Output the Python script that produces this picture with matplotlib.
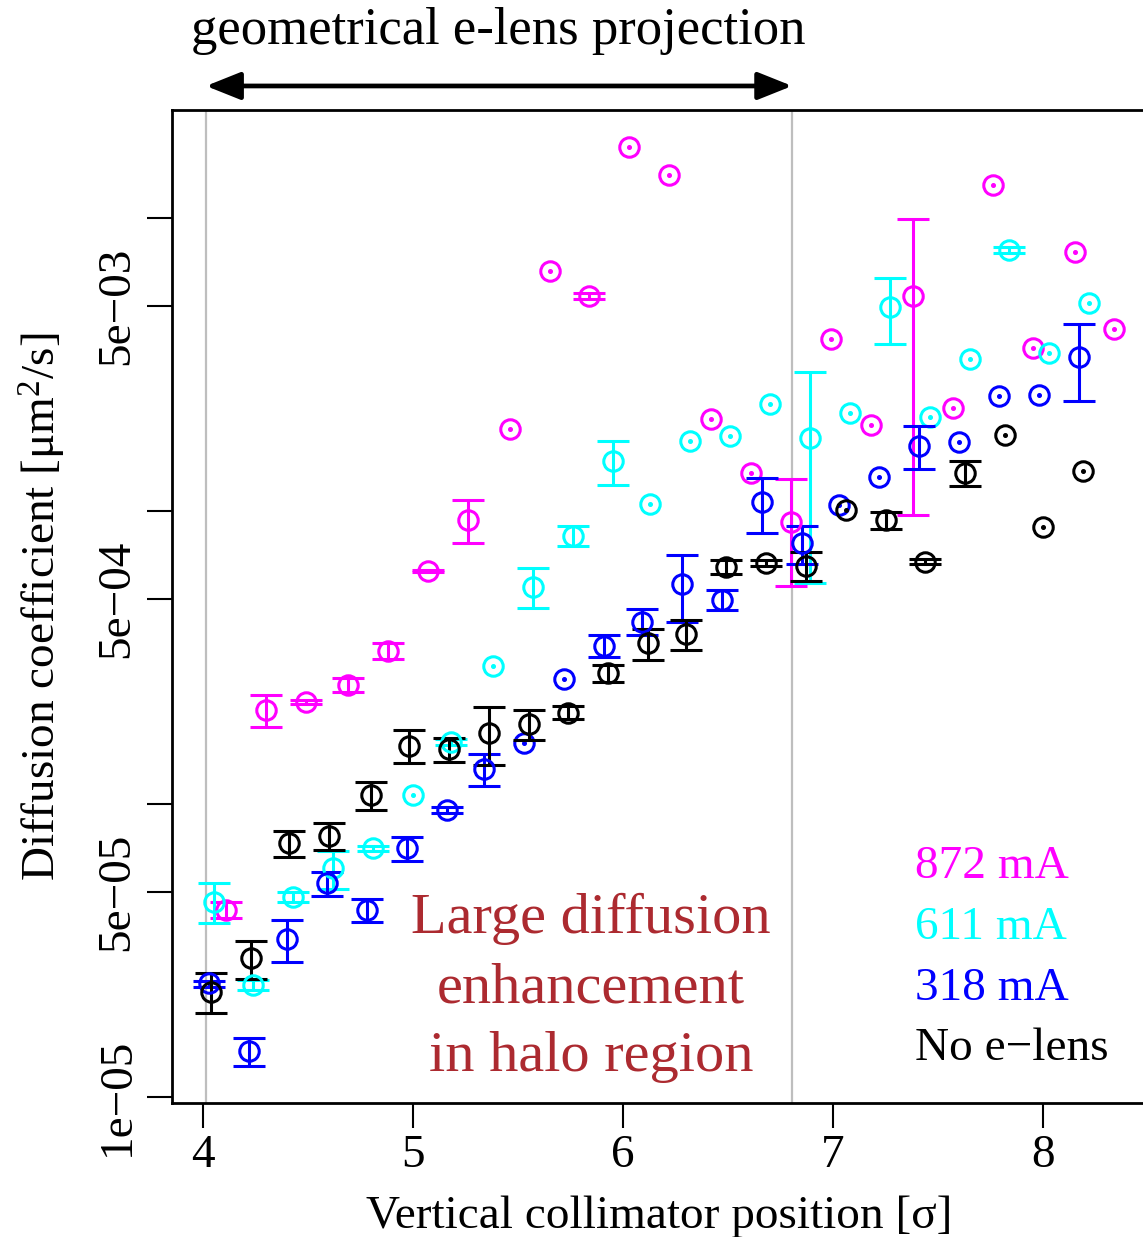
import numpy as np
import matplotlib
matplotlib.use('Agg')
import matplotlib.pyplot as plt

plt.rcParams['font.family'] = ['Liberation Serif', 'DejaVu Serif']
plt.rcParams['mathtext.fontset'] = 'custom'
plt.rcParams['mathtext.rm'] = 'Liberation Serif'
plt.rcParams['mathtext.it'] = 'Liberation Serif:italic'

# diffusion coefficient vs collimator position, one set per e-lens current
x_872 = [4.11, 4.30, 4.49, 4.69, 4.88, 5.07, 5.26, 5.46, 5.65, 5.84, 6.03, 6.22,
         6.42, 6.61, 6.80, 6.99, 7.18, 7.38, 7.57, 7.76, 7.95, 8.15, 8.34]
d_872 = [4.35e-5, 2.09e-4, 2.23e-4, 2.55e-4, 3.34e-4, 6.24e-4, 9.32e-4, 1.90e-3,
         6.61e-3, 5.42e-3, 1.74e-2, 1.40e-2, 2.06e-3, 1.35e-3, 9.19e-4, 3.86e-3,
         1.96e-3, 5.43e-3, 2.24e-3, 1.30e-2, 3.61e-3, 7.64e-3, 4.17e-3]
e_872 = [2.7e-6, 2.65e-5, 3.5e-6, 1.4e-5, 2.1e-5, 4.9e-6, 1.56e-4, 0, 0, 1.28e-4,
         0, 0, 0, 0, 3.63e-4, 0, 0, 4.46e-3, 0, 0, 0, 0, 0]

x_611 = [4.05, 4.24, 4.43, 4.62, 4.81, 5.00, 5.18, 5.38, 5.57, 5.76, 5.95, 6.13,
         6.32, 6.51, 6.70, 6.89, 7.08, 7.27, 7.46, 7.65, 7.84, 8.03, 8.22]
d_611 = [4.64e-5, 2.41e-5, 4.83e-5, 6.03e-5, 7.06e-5, 1.07e-4, 1.63e-4, 2.96e-4,
         5.52e-4, 8.24e-4, 1.48e-3, 1.06e-3, 1.73e-3, 1.80e-3, 2.32e-3, 1.77e-3,
         2.16e-3, 4.98e-3, 2.09e-3, 3.29e-3, 7.78e-3, 3.45e-3, 5.14e-3]
e_611 = [7.3e-6, 9.5e-7, 1.9e-6, 9.0e-6, 1.3e-6, 0, 3.8e-6, 0, 8.5e-5, 6.5e-5,
         2.5e-4, 0, 0, 0, 0, 1.2e-3, 0, 1.28e-3, 0, 0, 1.8e-4, 0, 0]

x_318 = [4.03, 4.22, 4.40, 4.59, 4.78, 4.97, 5.16, 5.34, 5.53, 5.72, 5.91, 6.09,
         6.28, 6.47, 6.66, 6.85, 7.03, 7.22, 7.41, 7.60, 7.79, 7.98, 8.17]
d_318 = [2.44e-5, 1.43e-5, 3.45e-5, 5.36e-5, 4.35e-5, 7.06e-5, 9.54e-5, 1.32e-4,
         1.61e-4, 2.67e-4, 3.47e-4, 4.19e-4, 5.64e-4, 4.97e-4, 1.07e-3, 7.76e-4,
         1.05e-3, 1.31e-3, 1.67e-3, 1.72e-3, 2.47e-3, 2.49e-3, 3.36e-3]
e_318 = [5.8e-7, 1.57e-6, 5.6e-6, 5.0e-6, 4.0e-6, 6.5e-6, 2.2e-6, 1.67e-5, 0, 0,
         3.0e-5, 4.3e-5, 1.45e-4, 3.9e-5, 2.3e-4, 1.15e-4, 0, 0, 2.75e-4, 0, 0, 0, 9.8e-4]

x_0 = [4.04, 4.23, 4.41, 4.60, 4.80, 4.98, 5.17, 5.36, 5.55, 5.74, 5.93, 6.12,
       6.30, 6.49, 6.68, 6.87, 7.06, 7.25, 7.44, 7.63, 7.82, 8.00, 8.19]
d_0 = [2.29e-5, 2.97e-5, 7.34e-5, 7.78e-5, 1.07e-4, 1.58e-4, 1.54e-4, 1.75e-4,
       1.87e-4, 2.05e-4, 2.79e-4, 3.54e-4, 3.79e-4, 6.46e-4, 6.63e-4, 6.51e-4,
       1.01e-3, 9.32e-4, 6.71e-4, 1.35e-3, 1.82e-3, 8.84e-4, 1.37e-3]
e_0 = [3.5e-6, 4.4e-6, 7.7e-6, 8.4e-6, 1.15e-5, 2.05e-5, 1.45e-5, 3.9e-5, 2.2e-5,
       1.05e-5, 1.8e-5, 4.3e-5, 4.45e-5, 3.55e-5, 1.56e-5, 7.2e-5, 0, 6.1e-5,
       1.3e-5, 1.32e-4, 0, 0, 0]

series = [
    ('872 mA', '#FF00FF', x_872, d_872, e_872),
    ('611 mA', '#00FFFF', x_611, d_611, e_611),
    ('318 mA', '#0000FF', x_318, d_318, e_318),
    ('No e\u2212lens', 'black', x_0, d_0, e_0),
]

elens_lo, elens_hi = 4.014, 6.805

fig = plt.figure(figsize=(11.43, 12.37), dpi=100)
ax = fig.add_axes([172/1143, 134/1237, 974/1143, 993/1237])
ax.set_yscale('log')

ax.axvline(elens_lo, color='#BEBEBE', lw=1.6, zorder=1)
ax.axvline(elens_hi, color='#BEBEBE', lw=1.6, zorder=1)

for name, c, x, d, e in series:
    x = np.array(x)
    d = np.array(d)
    e = np.array(e)
    has = e > 0
    ax.errorbar(x[has], d[has], yerr=e[has], fmt='o', mfc='none', mec=c, ecolor=c,
                ms=14, mew=2.2, elinewidth=2.2, capsize=11.5, capthick=2.2, zorder=3)
    ax.plot(x[~has], d[~has], 'o', mfc='none', mec=c, ms=14, mew=2.2, zorder=3)
    ax.plot(x[~has], d[~has], 'o', color=c, ms=2.6, zorder=3)

ax.set_xlim(3.852, 8.49)
ax.set_ylim(9.54e-6, 2.336e-2)

ax.set_xticks([4, 5, 6, 7, 8])
ax.set_xticklabels(['4', '5', '6', '7', '8'])
yt = [1e-5, 5e-5, 1e-4, 5e-4, 1e-3, 5e-3, 1e-2]
ytl = ['1e\u221205', '5e\u221205', '', '5e\u221204', '', '5e\u221203', '']
ax.set_yticks(yt)
ax.set_yticklabels(ytl, rotation=90, va='center')
ax.minorticks_off()
ax.tick_params(axis='both', length=18, width=1.5, labelsize=34, direction='out')
ax.tick_params(axis='x', pad=5)
ax.tick_params(axis='y', pad=6)
for s in ax.spines.values():
    s.set_linewidth(2)

ax.set_xlabel('Vertical collimator position [\u03c3]', fontsize=34)
ax.xaxis.set_label_coords(0.5, -0.093)
ax.set_ylabel('Diffusion coefficient [\u03bcm$^2$/s]', fontsize=34)
ax.yaxis.set_label_coords(-0.107, 0.5)

# e-lens span marker above the frame
ax.annotate('', xy=(elens_lo, 1.0242), xytext=(elens_hi, 1.0242),
            xycoords=('data', 'axes fraction'), textcoords=('data', 'axes fraction'),
            arrowprops=dict(arrowstyle='<|-|>,head_length=1.05,head_width=0.42',
                            lw=3.4, color='black', shrinkA=0, shrinkB=0,
                            mutation_scale=20),
            annotation_clip=False)
fig.text(0.4357, 0.9752, 'geometrical e-lens projection', fontsize=38,
         ha='center', va='center')

for i, line in enumerate(['Large diffusion', 'enhancement', 'in halo region']):
    ax.text(0.4302, 0.1850 - i*0.0695, line, transform=ax.transAxes, fontsize=42,
            color='#AC2A30', ha='center', va='center')

for i, (name, c, x, d, e) in enumerate(series):
    ax.text(0.7625, 0.2377 - i*0.0611, name, transform=ax.transAxes, fontsize=34,
            color=c, ha='left', va='center')

plt.savefig('out.png', dpi=100)
